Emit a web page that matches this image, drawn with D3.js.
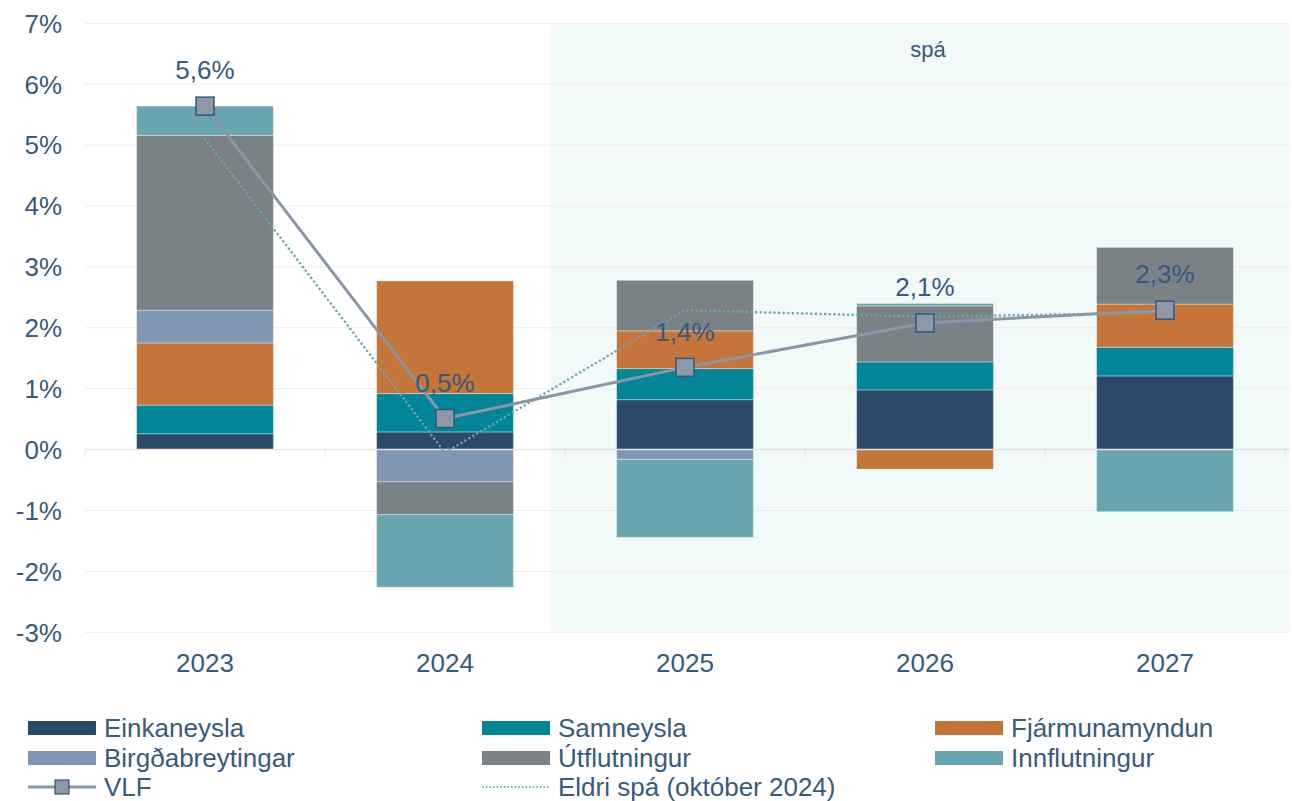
<!DOCTYPE html>
<html>
<head>
<meta charset="utf-8">
<script src="https://cdn.jsdelivr.net/npm/d3@7"></script>
<style>
  body { margin: 0; background: #fff; }
  text { font-family: "Liberation Sans", Arial, sans-serif; fill: #385a7c; }
</style>
</head>
<body>
<div id="chart"></div>
<script>
// values (percentage points)
const years = ["2023", "2024", "2025", "2026", "2027"];
const einkaneysla = [0.26, 0.29, 0.82, 0.98, 1.21];
const samneysla = [0.47, 0.63, 0.51, 0.46, 0.47];
const fjarmunamyndun = [1.02, 1.85, 0.62, -0.32, 0.71];
const birgdabreytingar = [0.54, -0.53, -0.16, 0, 0];
const utflutningur = [2.87, -0.54, 0.83, 0.92, 0.93];
const innflutningur = [0.48, -1.19, -1.28, 0.04, -1.02];
const vlf = [5.64, 0.51, 1.35, 2.08, 2.29];
const vlfLabels = ["5,6%", "0,5%", "1,4%", "2,1%", "2,3%"];
const eldriSpa = [5.1, -0.05, 2.29, 2.18, 2.25];
const yTicks = [-3, -2, -1, 0, 1, 2, 3, 4, 5, 6, 7];

const seriesNames = ["Einkaneysla", "Samneysla", "Fjármunamyndun", "Birgðabreytingar", "Útflutningur", "Innflutningur"];
const seriesValues = [einkaneysla, samneysla, fjarmunamyndun, birgdabreytingar, utflutningur, innflutningur];
const colors = ["#2b4a6a", "#008696", "#c5743a", "#7f97b2", "#7a8285", "#6aa6b0"];

const W = 1292, H = 801;
const mLeft = 85, mRight = 1285, mTop = 23.3, mBottom = 632.3;

const svg = d3.select("#chart").append("svg")
  .attr("width", W)
  .attr("height", H);

const x = d3.scaleBand().domain(years).range([mLeft, mRight]).paddingInner(0.43).paddingOuter(0.215);
const step = x.step();
const y = d3.scaleLinear().domain([-3, 7]).range([mBottom, mTop]);

// forecast shading
const shadeX = x("2024") + x.bandwidth() + 37;
svg.append("rect")
  .attr("x", shadeX)
  .attr("y", y(7))
  .attr("width", mRight + 5 - shadeX)
  .attr("height", y(-3) - y(7))
  .attr("fill", "#f2faf9");

svg.append("text")
  .attr("x", 928).attr("y", 57)
  .attr("text-anchor", "middle")
  .attr("font-size", 22)
  .text("spá");

// gridlines
svg.append("g").selectAll("line")
  .data(yTicks.filter(d => d !== 0))
  .enter().append("line")
  .attr("x1", mLeft).attr("x2", mRight + 5)
  .attr("y1", d => y(d)).attr("y2", d => y(d))
  .attr("stroke", "#ececec").attr("stroke-width", 1);

// y axis labels
svg.append("g").selectAll("text")
  .data(yTicks)
  .enter().append("text")
  .attr("x", 62)
  .attr("y", d => y(d))
  .attr("dy", "0.36em")
  .attr("text-anchor", "end")
  .attr("font-size", 26)
  .text(d => d + "%");

// stacked bars
const table = years.map((yr, i) => {
  const row = { year: yr };
  seriesNames.forEach((n, j) => row[n] = seriesValues[j][i]);
  return row;
});
const stacked = d3.stack().keys(seriesNames).offset(d3.stackOffsetDiverging)(table);

svg.append("g").selectAll("g")
  .data(stacked)
  .enter().append("g")
  .attr("fill", (d, i) => colors[i])
  .selectAll("rect")
  .data(d => d)
  .enter().append("rect")
  .attr("x", d => x(d.data.year))
  .attr("width", x.bandwidth())
  .attr("y", d => y(Math.max(d[0], d[1])))
  .attr("height", d => Math.abs(y(d[0]) - y(d[1])))
  .attr("stroke", "rgba(255,255,255,0.35)")
  .attr("stroke-width", 1);

// zero axis with ticks
svg.append("line")
  .attr("x1", mLeft).attr("x2", mRight + 5)
  .attr("y1", y(0)).attr("y2", y(0))
  .attr("stroke", "#e2e2e2").attr("stroke-width", 1.5);

svg.append("g").selectAll("line")
  .data(years.concat(["end"]))
  .enter().append("line")
  .attr("x1", (d, i) => mLeft + i * step).attr("x2", (d, i) => mLeft + i * step)
  .attr("y1", y(0)).attr("y2", y(0) + 8)
  .attr("stroke", "#e2e2e2").attr("stroke-width", 1);

// x labels
svg.append("g").selectAll("text")
  .data(years)
  .enter().append("text")
  .attr("x", d => x(d) + x.bandwidth() / 2)
  .attr("y", 672)
  .attr("text-anchor", "middle")
  .attr("font-size", 26)
  .text(d => d);

const cx = d => x(d) + x.bandwidth() / 2;

// older forecast (dotted)
svg.append("path")
  .datum(eldriSpa)
  .attr("d", d3.line().x((d, i) => cx(years[i])).y(d => y(d)))
  .attr("fill", "none")
  .attr("stroke", "#6aa6b0")
  .attr("stroke-width", 2.5)
  .attr("stroke-dasharray", "0.1,4.5")
  .attr("stroke-linecap", "round");

// VLF line
svg.append("path")
  .datum(vlf)
  .attr("d", d3.line().x((d, i) => cx(years[i])).y(d => y(d)))
  .attr("fill", "none")
  .attr("stroke", "#8a96a8")
  .attr("stroke-width", 3);

svg.append("g").selectAll("rect")
  .data(vlf)
  .enter().append("rect")
  .attr("x", (d, i) => cx(years[i]) - 9)
  .attr("y", d => y(d) - 9)
  .attr("width", 18).attr("height", 18)
  .attr("fill", "#8c97a8")
  .attr("stroke", "#34567a").attr("stroke-width", 1.5);

svg.append("g").selectAll("text")
  .data(vlf)
  .enter().append("text")
  .attr("x", (d, i) => cx(years[i]))
  .attr("y", d => y(d) - 36)
  .attr("dy", "0.36em")
  .attr("text-anchor", "middle")
  .attr("font-size", 26)
  .text((d, i) => vlfLabels[i]);

// legend
const legendItems = [
  { name: "Einkaneysla", type: "bar", color: colors[0] },
  { name: "Samneysla", type: "bar", color: colors[1] },
  { name: "Fjármunamyndun", type: "bar", color: colors[2] },
  { name: "Birgðabreytingar", type: "bar", color: colors[3] },
  { name: "Útflutningur", type: "bar", color: colors[4] },
  { name: "Innflutningur", type: "bar", color: colors[5] },
  { name: "VLF", type: "vlf" },
  { name: "Eldri spá (október 2024)", type: "dot" }
];
const colX = [28, 482, 935];
const rowY = [728, 758, 787];

const lg = svg.append("g").selectAll("g")
  .data(legendItems)
  .enter().append("g")
  .attr("transform", (d, i) => `translate(${colX[i % 3]},${rowY[Math.floor(i / 3)]})`);

lg.filter(d => d.type === "bar").append("rect")
  .attr("x", 0).attr("y", -7).attr("width", 68).attr("height", 14)
  .attr("fill", d => d.color);

lg.filter(d => d.type === "vlf").each(function() {
  const g = d3.select(this);
  g.append("line").attr("x1", 0).attr("x2", 68).attr("y1", 0).attr("y2", 0)
    .attr("stroke", "#8a96a8").attr("stroke-width", 3);
  g.append("rect").attr("x", 27).attr("y", -7).attr("width", 14).attr("height", 14)
    .attr("fill", "#8c97a8").attr("stroke", "#34567a").attr("stroke-width", 1.2);
});

lg.filter(d => d.type === "dot").append("line")
  .attr("x1", 1).attr("x2", 68).attr("y1", 0).attr("y2", 0)
  .attr("stroke", "#6aa6b0").attr("stroke-width", 1.8)
  .attr("stroke-dasharray", "0.1,3.5").attr("stroke-linecap", "round");

lg.append("text")
  .attr("x", 76).attr("y", 0).attr("dy", "0.36em")
  .attr("font-size", 26)
  .text(d => d.name);
</script>
</body>
</html>
